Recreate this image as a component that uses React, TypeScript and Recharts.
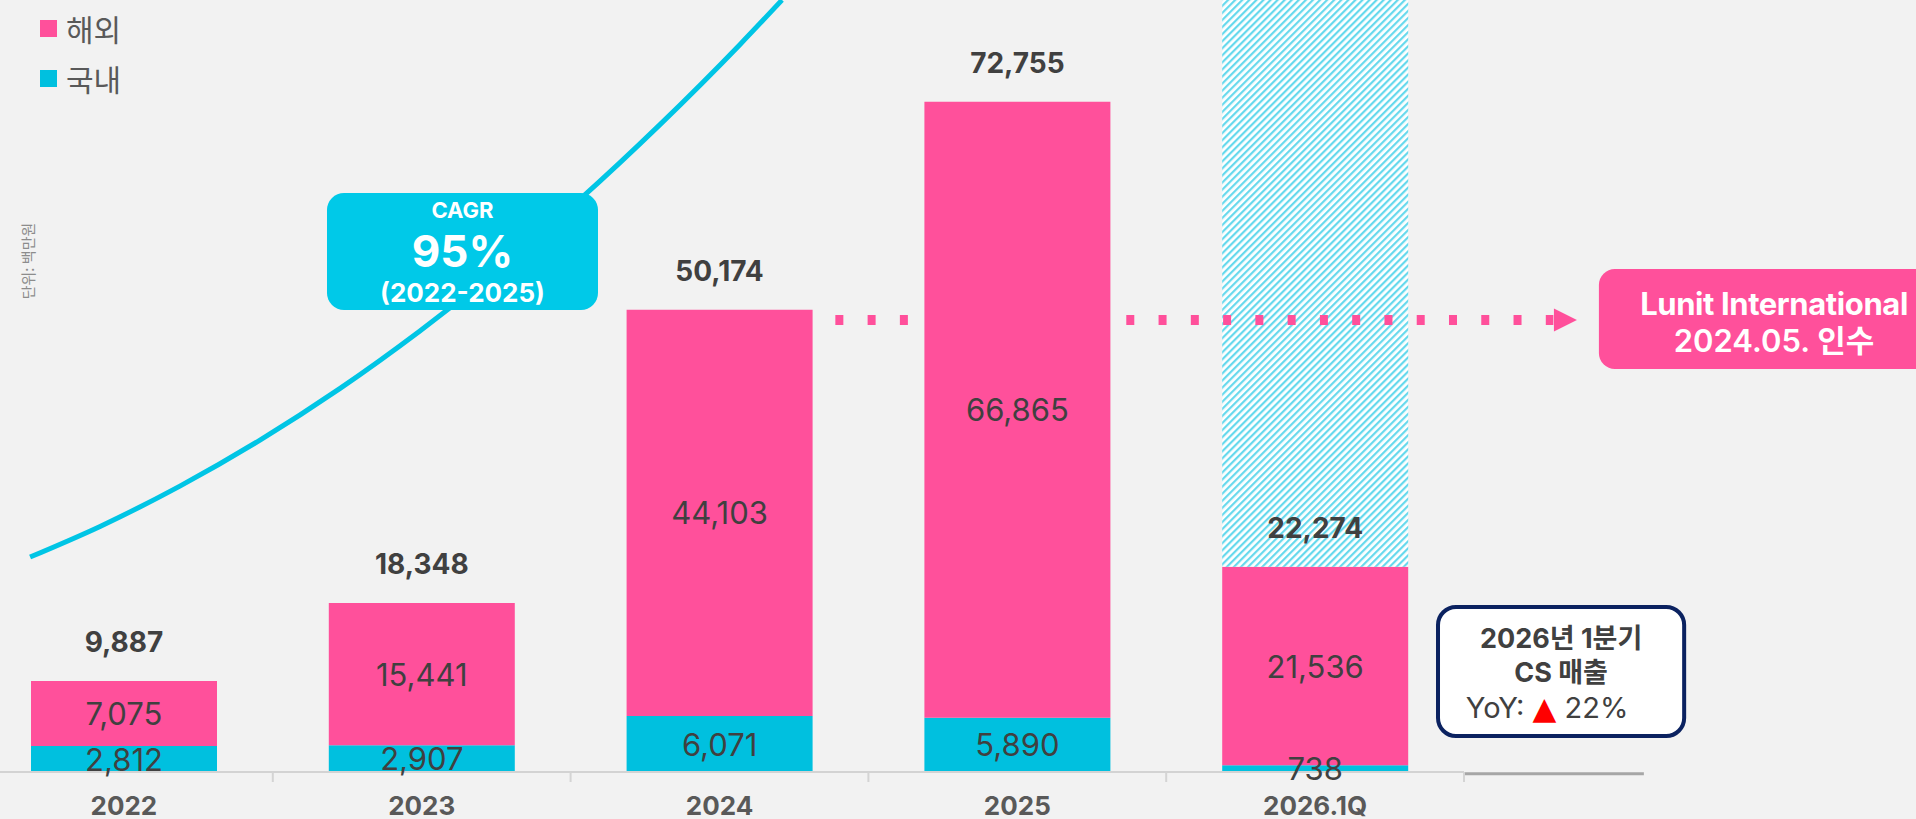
import React from 'react';
import {
  ComposedChart, Bar, Line, XAxis, YAxis, LabelList, Legend,
  ReferenceArea, ReferenceLine, ReferenceDot,
} from 'recharts';

// ---------- data ----------
const categories = ['2022', '2023', '2024', '2025', '2026.1Q'];
const domestic = [2812, 2907, 6071, 5890, 738];
const overseas = [7075, 15441, 44103, 66865, 21536];
const totals = [9887, 18348, 50174, 72755, 22274];
const projection = [0, 0, 0, 0, 61526];

// CAGR growth curve (x in category-band units, y in 백만원)
const curveX = [0.185, 0.42, 0.688, 0.957, 1.226, 1.494, 1.763, 2.032, 2.3, 2.569, 2.71];
const curveY = [23338, 26660, 31034, 36027, 41639, 47870, 54720, 62188, 70275, 78980, 83800];

const legendNames = ['해외', '국내'];
const Y_MAX = 83800;

// ---------- styles ----------
const PINK = '#ff509b';
const CYAN = '#00c0df';
const CYAN_BOX = '#00c9e8';
const TEXT = '#404040';
const FONT = "Inter, 'Noto Sans CJK KR', sans-serif";
const KFONT = "'Noto Sans CJK KR', Inter, sans-serif";

const W = 1941;
const H = 819;
const MR = 452;
const PLOT_W = W - MR;
const BAND = PLOT_W / categories.length;

const data = categories.map((c, i) => ({
  name: c,
  domestic: domestic[i],
  overseas: overseas[i],
  projection: projection[i],
  totalOnBar: projection[i] > 0 ? null : totals[i],
  totalOnProj: projection[i] > 0 ? totals[i] : null,
}));
const curve = curveX.map((x, i) => ({ x, y: curveY[i] }));

const fmt = (v: number) => Number(v).toLocaleString('en-US');

const centerLabel = (props: any) => {
  const { x, y, width, height, value } = props;
  if (value == null) return null;
  return (
    <text x={x + width / 2} y={y + height / 2} textAnchor="middle" dominantBaseline="central"
      fontSize={31} fill={TEXT} fontFamily={FONT}>{fmt(value)}</text>
  );
};

const totalOnTop = (props: any) => {
  const { x, y, width, value } = props;
  if (value == null) return null;
  return (
    <text x={x + width / 2} y={y - 39} textAnchor="middle" dominantBaseline="central"
      fontSize={28} fontWeight={700} fill={TEXT} fontFamily={FONT}>{fmt(value)}</text>
  );
};

const totalOnBottom = (props: any) => {
  const { x, y, width, height, value } = props;
  if (value == null) return null;
  return (
    <text x={x + width / 2} y={y + height - 39} textAnchor="middle" dominantBaseline="central"
      fontSize={28} fontWeight={700} fill={TEXT} fontFamily={FONT}>{fmt(value)}</text>
  );
};

const XTick = (props: any) => {
  const { x, y, payload } = props;
  return (
    <g>
      <text x={x} y={y + 33} textAnchor="middle" dominantBaseline="central" fontSize={26}
        fontWeight={700} fill="#595959" fontFamily={FONT}>{payload.value}</text>
      <line x1={x + BAND / 2} x2={x + BAND / 2} y1={y} y2={y + 10} stroke="#d4d4d4" strokeWidth={2} />
    </g>
  );
};

const cagrShape = (p: any) => {
  const { x, y, width, height } = p;
  const cx = x + width / 2;
  return (
    <g>
      <rect x={x} y={y} width={width} height={height} rx={17} ry={17} fill={CYAN_BOX} />
      <text x={cx} y={y + 17} textAnchor="middle" dominantBaseline="central" fill="#fff" fontSize={22} fontWeight={700} fontFamily={FONT}>CAGR</text>
      <text x={cx} y={y + 58} textAnchor="middle" dominantBaseline="central" fill="#fff" fontSize={44} fontWeight={700} fontFamily={FONT}>95%</text>
      <text x={cx} y={y + 99} textAnchor="middle" dominantBaseline="central" fill="#fff" fontSize={26} fontWeight={700} fontFamily={FONT}>(2022-2025)</text>
    </g>
  );
};

const lunitShape = (p: any) => {
  const { x, y, width, height } = p;
  const cx = x + width / 2;
  return (
    <g>
      <rect x={x} y={y} width={width} height={height} rx={16} ry={16} fill={PINK} />
      <text x={cx} y={y + 34} textAnchor="middle" dominantBaseline="central" fill="#fff" fontSize={31} fontWeight={700} letterSpacing={-0.4} fontFamily={FONT}>Lunit International</text>
      <text x={cx} y={y + 71} textAnchor="middle" dominantBaseline="central" fill="#fff" fontSize={31} fontWeight={600} fontFamily={FONT}>2024.05. 인수</text>
    </g>
  );
};

const yoyShape = (p: any) => {
  const { x, y, width, height } = p;
  const cx = x + width / 2;
  return (
    <g>
      <rect x={x + 2} y={y + 2} width={width - 4} height={height - 4} rx={18} ry={18} fill="#fff" stroke="#0b2260" strokeWidth={4} />
      <text x={cx} y={y + 34} textAnchor="middle" dominantBaseline="central" fill={TEXT} fontSize={27} fontWeight={700} fontFamily={FONT}>2026년 1분기</text>
      <text x={cx} y={y + 68} textAnchor="middle" dominantBaseline="central" fill={TEXT} fontSize={27} fontWeight={700} fontFamily={FONT}>CS 매출</text>
      <text x={cx - 14} y={y + 103} textAnchor="middle" dominantBaseline="central" fill={TEXT} fontSize={29} fontFamily={FONT}>
        YoY: <tspan fill="#ff0000" fontSize={31} fontFamily="'DejaVu Sans', sans-serif">▲</tspan> 22%
      </text>
    </g>
  );
};

const arrowShape = (p: any) => {
  const { cx, cy } = p;
  return <polygon points={`${cx},${cy - 11.5} ${cx + 23},${cy} ${cx},${cy + 11.5}`} fill={PINK} />;
};

const legendColors = [PINK, CYAN];
const renderLegend = () => (
  <div style={{ fontFamily: KFONT }}>
    {legendNames.map((n, i) => (
      <div key={n} style={{ display: 'flex', alignItems: 'center', height: 50 }}>
        <div style={{ width: 17, height: 17, background: legendColors[i], marginRight: 9 }} />
        <span style={{ fontSize: 30, color: '#595959', lineHeight: '50px' }}>{n}</span>
      </div>
    ))}
  </div>
);

const DOT_Y = 49065;

export default function App() {
  return (
    <div style={{ position: 'absolute', left: -25, top: 0, width: W, height: H, background: '#f2f2f2', overflow: 'hidden' }}>
      <ComposedChart width={W} height={H} data={data} margin={{ top: 0, right: MR, left: 0, bottom: 0 }}>
        <defs>
          <pattern id="hatch" width="5" height="5" patternUnits="userSpaceOnUse" patternTransform="rotate(45)">
            <rect width="5" height="5" fill="#ffffff" />
            <rect width="2.2" height="5" fill="#66d9ed" />
          </pattern>
        </defs>
        <XAxis dataKey="name" height={47} axisLine={{ stroke: '#d3d3d3', strokeWidth: 2 }}
          tickLine={false} tickSize={0} tickMargin={0} tick={<XTick />} interval={0} />
        <XAxis xAxisId="num" dataKey="x" type="number" domain={[0, 5]} hide allowDataOverflow />
        <YAxis hide domain={[0, Y_MAX]} allowDataOverflow />
        <Legend content={renderLegend} layout="vertical" align="center" verticalAlign="middle"
          wrapperStyle={{ left: 65, top: 3, width: 200, height: 100 }} />
        <Bar dataKey="domestic" stackId="a" fill={CYAN} barSize={186} isAnimationActive={false}>
          <LabelList dataKey="domestic" content={centerLabel} />
        </Bar>
        <Bar dataKey="overseas" stackId="a" fill={PINK} barSize={186} isAnimationActive={false}>
          <LabelList dataKey="overseas" content={centerLabel} />
          <LabelList dataKey="totalOnBar" content={totalOnTop} />
        </Bar>
        <Bar dataKey="projection" stackId="a" fill="url(#hatch)" barSize={186} legendType="none" isAnimationActive={false}>
          <LabelList dataKey="totalOnProj" content={totalOnBottom} />
        </Bar>
        <Line data={curve} xAxisId="num" dataKey="y" type="monotone" stroke="#00c5e5" strokeWidth={5}
          dot={false} activeDot={false} legendType="none" isAnimationActive={false} zIndex={400} />
        <ReferenceArea xAxisId="num" x1={1.182} x2={2.092} y1={50150} y2={62850} ifOverflow="visible" shape={cagrShape} zIndex={450} />
        <ReferenceLine xAxisId="num" segment={[{ x: 2.889, y: DOT_Y }, { x: 3.19, y: DOT_Y }]} ifOverflow="visible"
          stroke={PINK} strokeWidth={10} strokeDasharray="8 24.27" zIndex={450} />
        <ReferenceLine xAxisId="num" segment={[{ x: 3.866, y: DOT_Y }, { x: 5.3, y: DOT_Y }]} ifOverflow="visible"
          stroke={PINK} strokeWidth={10} strokeDasharray="8 24.27" zIndex={450} />
        <ReferenceDot xAxisId="num" x={5.302} y={DOT_Y} r={1} ifOverflow="visible" shape={arrowShape} zIndex={450} />
        <ReferenceArea xAxisId="num" x1={5.453} x2={6.629} y1={43745} y2={54600} ifOverflow="visible" shape={lunitShape} zIndex={450} />
        <ReferenceArea xAxisId="num" x1={4.906} x2={5.746} y1={3691} y2={18128} ifOverflow="visible" shape={yoyShape} zIndex={450} />
        <ReferenceLine xAxisId="num" segment={[{ x: 5.0, y: -200 }, { x: 5.604, y: -200 }]} ifOverflow="visible"
          stroke="#a6a6a6" strokeWidth={3} zIndex={600} />
      </ComposedChart>
      <div style={{
        position: 'absolute', left: 52, top: 261, transform: 'translate(-50%, -50%) rotate(-90deg)',
        whiteSpace: 'nowrap', fontSize: 15, color: '#8c8c8c', fontFamily: KFONT,
      }}>단위: 백만원</div>
    </div>
  );
}
